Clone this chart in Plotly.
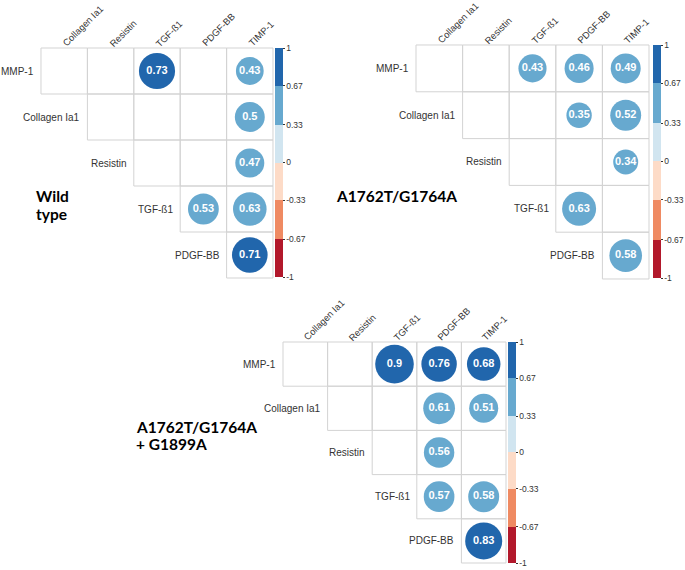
import plotly.graph_objects as go

W, H = 685, 570

col_labels = ["Collagen Ia1", "Resistin", "TGF-ß1", "PDGF-BB", "TIMP-1"]
row_labels = ["MMP-1", "Collagen Ia1", "Resistin", "TGF-ß1", "PDGF-BB"]

wild_type = [
    [None, None, 0.73, None, 0.43],
    [None, None, None, None, 0.50],
    [None, None, None, None, 0.47],
    [None, None, None, 0.53, 0.63],
    [None, None, None, None, 0.71],
]
a1762t = [
    [None, None, 0.43, 0.46, 0.49],
    [None, None, None, 0.35, 0.52],
    [None, None, None, None, 0.34],
    [None, None, None, 0.63, None],
    [None, None, None, None, 0.58],
]
a1762t_g1899a = [
    [None, None, 0.90, 0.76, 0.68],
    [None, None, None, 0.61, 0.51],
    [None, None, None, 0.56, None],
    [None, None, None, 0.57, 0.58],
    [None, None, None, None, 0.83],
]
panel_titles = [["Wild", "type"], ["A1762T/G1764A"], ["A1762T/G1764A", "+ G1899A"]]

bin_edges = [-1, -0.67, -0.33, 0, 0.33, 0.67, 1]
bin_colors = ["#B2182B", "#EF8A62", "#FDDBC7", "#D1E5F0", "#67A9CF", "#2166AC"]
cbar_ticks = [1, 0.67, 0.33, 0, -0.33, -0.67, -1]

colorscale = []
for k, c in enumerate(bin_colors):
    colorscale.append([(bin_edges[k] + 1) / 2, c])
    colorscale.append([(bin_edges[k + 1] + 1) / 2, c])


def px_x(v):
    return v / W


def px_y(v):
    return 1 - v / H


# panel layout in window pixels: grid left, right, top, bottom; colorbar x, top, bottom;
# title x and the vertical centre of each title line
panels = [
    dict(data=wild_type, grid=(41, 273, 48, 278), cb=(275, 48, 277), title=(35, [196, 214])),
    dict(data=a1762t, grid=(416, 649, 45, 279), cb=(653, 45, 278), title=(335, [196])),
    dict(data=a1762t_g1899a, grid=(283, 506, 342, 563), cb=(508, 342, 563), title=(135, [427, 444])),
]

PAD = 0.03
fig = go.Figure()
annotations = []
shapes = []
FONT = "Liberation Sans, Arial, sans-serif"
label_font = dict(family=FONT, size=10, color="#333333")
col_font = dict(family=FONT, size=9.4, color="#333333")

for p, panel in enumerate(panels):
    gl, gr, gt, gb = panel["grid"]
    cw = (gr - gl) / 5.0
    ch = (gb - gt) / 5.0
    x0px, x1px = gl - PAD * cw, gr + PAD * cw
    y0px, y1px = gt - PAD * ch, gb + PAD * ch
    xa = "xaxis" if p == 0 else f"xaxis{p+1}"
    ya = "yaxis" if p == 0 else f"yaxis{p+1}"
    xr = "x" if p == 0 else f"x{p+1}"
    yr = "y" if p == 0 else f"y{p+1}"
    fig.layout[xa] = dict(domain=[px_x(x0px), px_x(x1px)], range=[-0.5 - PAD, 4.5 + PAD],
                          visible=False, fixedrange=True, anchor=yr)
    fig.layout[ya] = dict(domain=[px_y(y1px), px_y(y0px)], range=[4.5 + PAD, -0.5 - PAD],
                          visible=False, fixedrange=True, anchor=xr)

    xs, ys, vs, txt = [], [], [], []
    for i, row in enumerate(panel["data"]):
        for j in range(i, 5):
            shapes.append(dict(type="rect", xref=xr, yref=yr, x0=j - 0.5, x1=j + 0.5,
                               y0=i - 0.5, y1=i + 0.5, line=dict(color="#D3D3D3", width=1),
                               fillcolor="rgba(0,0,0,0)", layer="below"))
            v = row[j]
            if v is not None:
                xs.append(j)
                ys.append(i)
                vs.append(v)
                txt.append(f"<b>{v:g}</b>")
    cell = min(cw, ch)
    sizes = [0.92 * cell * abs(v) ** 0.5 for v in vs]
    cbx, cbt, cbb = panel["cb"]
    fig.add_trace(go.Scatter(
        x=xs, y=ys, xaxis=xr, yaxis=yr, mode="markers+text", text=txt,
        textposition="middle center",
        textfont=dict(family=FONT, size=11, color="white"),
        marker=dict(size=sizes, color=vs, colorscale=colorscale, cmin=-1, cmax=1,
                    line=dict(width=0), opacity=1,
                    showscale=True,
                    colorbar=dict(x=px_x(cbx), xanchor="left", xpad=0, ypad=0,
                                  y=px_y((cbt + cbb) / 2), yanchor="middle",
                                  len=(cbb - cbt) / H, lenmode="fraction",
                                  thickness=8, outlinewidth=0,
                                  tickvals=cbar_ticks, ticktext=[f"{t:g}" for t in cbar_ticks],
                                  ticks="outside", ticklen=2, tickcolor="#333333",
                                  tickfont=dict(family=FONT, size=8.5, color="#333333"))),
        hoverinfo="skip", showlegend=False, cliponaxis=False))

    for i, lab in enumerate(row_labels):
        annotations.append(dict(xref=xr, yref=yr, x=i - 0.5, y=i, text=lab, showarrow=False,
                                xanchor="right", yanchor="middle", xshift=-5, font=label_font))
    for j, lab in enumerate(col_labels):
        annotations.append(dict(xref=xr, yref=yr, x=j, y=-0.5, text=lab, showarrow=False,
                                xanchor="left", yanchor="bottom", textangle=-45, borderpad=0,
                                xshift=-5, yshift=-2, font=col_font))
    tx, tys = panel["title"]
    for line, ty in zip(panel_titles[p], tys):
        annotations.append(dict(xref="paper", yref="paper", x=px_x(tx), y=px_y(ty),
                                text=f"<b>{line}</b>", showarrow=False,
                                xanchor="left", yanchor="middle", borderpad=0,
                                font=dict(family="Lato, Open Sans, sans-serif", size=15.5,
                                          color="black")))

fig.update_layout(width=W, height=H, autosize=False, margin=dict(l=0, r=0, t=0, b=0),
                  paper_bgcolor="white", plot_bgcolor="white",
                  annotations=annotations, shapes=shapes, showlegend=False)
fig.write_html("out.html", config={"displayModeBar": False},
               post_script="document.body.style.margin='0';document.body.style.overflow='hidden';")
